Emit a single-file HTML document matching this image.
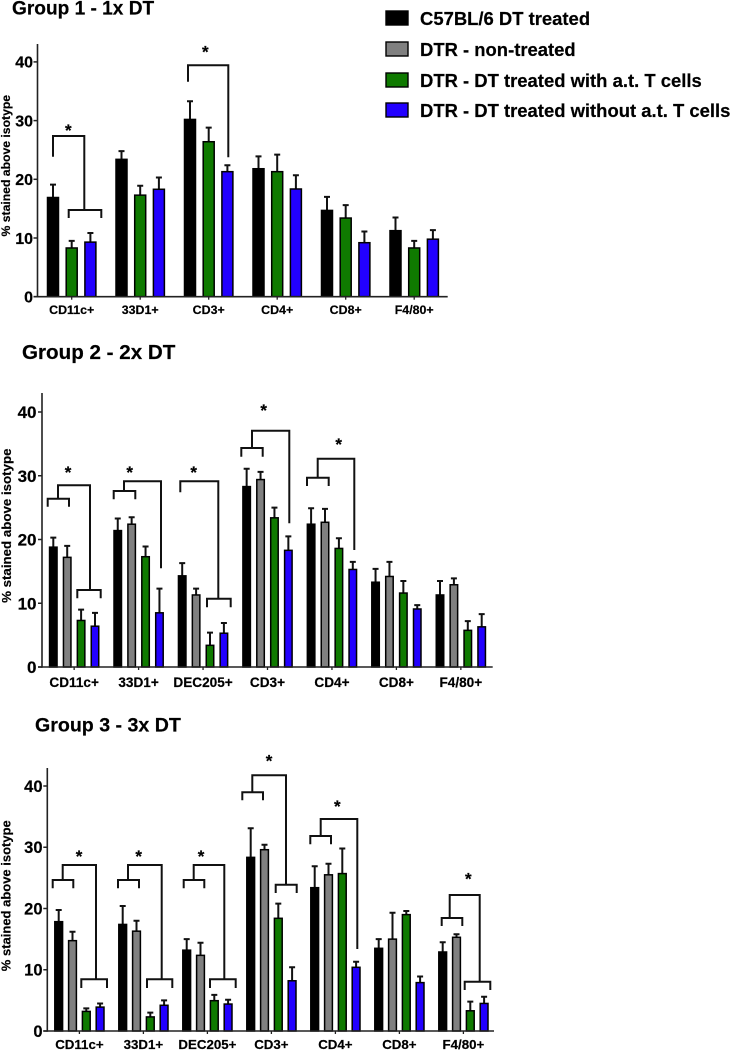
<!DOCTYPE html>
<html>
<head>
<meta charset="utf-8">
<style>
html,body{margin:0;padding:0;background:#fff;}
svg{display:block;font-family:"Liberation Sans",Arial,sans-serif;font-weight:bold;fill:#000;}
text{stroke:#000;stroke-width:.2;}
.br{fill:none;stroke:#111;stroke-width:2;}
</style>
</head>
<body>
<svg id="chart" width="731" height="1050" viewBox="0 0 731 1050" xmlns="http://www.w3.org/2000/svg">
  <rect width="731" height="1050" fill="#fff"/>

  <text x="12" y="14.7" font-size="19.1">Group 1 - 1x DT</text>
  <text x="22" y="359" font-size="20.6">Group 2 - 2x DT</text>
  <text x="35" y="731.5" font-size="19.6">Group 3 - 3x DT</text>

  <g>
    <rect x="386" y="11" width="22" height="14" fill="#000" stroke="#000" stroke-width="1.4"/>
    <text x="420" y="25" font-size="18.45">C57BL/6 DT treated</text>
    <rect x="386" y="42" width="22" height="14" fill="#808080" stroke="#000" stroke-width="1.4"/>
    <text x="420" y="56" font-size="18.45">DTR - non-treated</text>
    <rect x="386" y="73" width="22" height="14" fill="#0f7a00" stroke="#000" stroke-width="1.4"/>
    <text x="420" y="87" font-size="18.45">DTR - DT treated with a.t. T cells</text>
    <rect x="386" y="103" width="22" height="14" fill="#2200ff" stroke="#000" stroke-width="1.4"/>
    <text x="420" y="117" font-size="18.45">DTR - DT treated without a.t. T cells</text>
  </g>

  <g>
    <path class="br" d="M53 156.7V136H84.3V210"/>
    <path class="br" d="M68.7 218V210H101.3V218"/>
    <text x="68.3" y="136" font-size="17" text-anchor="middle">*</text>
    <path class="br" d="M188 81.7V65.3H228.3V157.3"/>
    <text x="205.3" y="57.5" font-size="17" text-anchor="middle">*</text>
  </g>

  <g>
    <path class="br" d="M47.7 506.7V498.7H69V506.7"/>
    <path class="br" d="M58 498.7V485.3H90V590"/>
    <path class="br" d="M77.3 598.3V590H100.7V598.3"/>
    <text x="68" y="478.2" font-size="17" text-anchor="middle">*</text>
    <path class="br" d="M113.7 499.3V491H135.3V499.3"/>
    <path class="br" d="M124 491V481.3H161V568.3"/>
    <text x="129.7" y="478.2" font-size="17" text-anchor="middle">*</text>
    <path class="br" d="M180.3 492.3V481.3H218.3V598.7"/>
    <path class="br" d="M207 607.3V598.7H230.7V607.3"/>
    <text x="193.7" y="478.2" font-size="17" text-anchor="middle">*</text>
    <path class="br" d="M241.3 456.7V448H262.7V456.7"/>
    <path class="br" d="M252 448V430.7H289.3V523.3"/>
    <text x="263.7" y="415.8" font-size="17" text-anchor="middle">*</text>
    <path class="br" d="M307 486V477.7H328.7V486"/>
    <path class="br" d="M317.7 477.7V458.7H354.3V550"/>
    <text x="338.7" y="449.8" font-size="17" text-anchor="middle">*</text>
  </g>

  <g>
    <path class="br" d="M52.7 888.3V880H73.3V888.3"/>
    <path class="br" d="M62.7 880V865H96V979.3"/>
    <path class="br" d="M81.3 988V979.3H107V988"/>
    <text x="79" y="862.2" font-size="17" text-anchor="middle">*</text>
    <path class="br" d="M118 888.3V880H139V888.3"/>
    <path class="br" d="M128 880V865H161.7V979.3"/>
    <path class="br" d="M147 988V979.3H172.3V988"/>
    <text x="138.7" y="862.2" font-size="17" text-anchor="middle">*</text>
    <path class="br" d="M183.7 888.3V880H204.3V888.3"/>
    <path class="br" d="M193.7 880V865H224.3V979.3"/>
    <path class="br" d="M210 988V979.3H235.7V988"/>
    <text x="201" y="862.2" font-size="17" text-anchor="middle">*</text>
    <path class="br" d="M242.3 800.3V792.3H263V800.3"/>
    <path class="br" d="M252.3 792.3V775.3H286V884.7"/>
    <path class="br" d="M275.7 893V884.7H296.7V893"/>
    <text x="269" y="766.5" font-size="17" text-anchor="middle">*</text>
    <path class="br" d="M310.3 844.3V836H331V844.3"/>
    <path class="br" d="M320.7 836V819H357.3V949"/>
    <text x="337.3" y="811.8" font-size="17" text-anchor="middle">*</text>
    <path class="br" d="M441.7 926V918H462.3V926"/>
    <path class="br" d="M449.7 918V895H479.7V981.7"/>
    <path class="br" d="M464.7 990V981.7H490.3V990"/>
    <text x="468.3" y="884.5" font-size="17" text-anchor="middle">*</text>
  </g>
</svg>
<script>
// Shared tick values and series colours
const yTicks = [0, 10, 20, 30, 40];
const seriesNames = { k: 'c57bl6', g: 'non-treated', n: 'with-tcells', b: 'without-tcells' };
const seriesFills = { k: '#000000', g: '#808080', n: '#0f7a00', b: '#2200ff' };

// Group 1 data
const g1Categories = ['CD11c+', '33D1+', 'CD3+', 'CD4+', 'CD8+', 'F4/80+'];
const g1Series = ['k', 'n', 'b'];
const g1Values = [
  [16.9, 8.3, 9.3],
  [23.4, 17.3, 18.3],
  [30.2, 26.4, 21.3],
  [21.8, 21.3, 18.35],
  [14.7, 13.4, 9.2],
  [11.25, 8.3, 9.8]
];
const g1Upper = [
  [19.1, 9.5, 10.85],
  [24.8, 18.9, 20.3],
  [33.3, 28.8, 22.4],
  [23.9, 24.2, 20.7],
  [17.0, 15.6, 11.1],
  [13.5, 9.5, 11.35]
];

// Group 2 data
const g2Categories = ['CD11c+', '33D1+', 'DEC205+', 'CD3+', 'CD4+', 'CD8+', 'F4/80+'];
const g2Series = ['k', 'g', 'n', 'b'];
const g2Values = [
  [18.8, 17.2, 7.3, 6.4],
  [21.4, 22.4, 17.3, 8.5],
  [14.3, 11.3, 3.4, 5.3],
  [28.3, 29.4, 23.4, 18.3],
  [22.4, 22.7, 18.6, 15.3],
  [13.3, 14.2, 11.6, 9.1],
  [11.3, 12.9, 5.75, 6.3]
];
const g2Upper = [
  [20.3, 19.0, 9.0, 8.5],
  [23.3, 23.5, 18.9, 12.3],
  [16.3, 12.3, 5.4, 6.9],
  [31.1, 30.6, 25.0, 20.5],
  [24.9, 24.8, 20.2, 16.5],
  [15.4, 16.5, 13.5, 9.7],
  [13.5, 13.9, 7.2, 8.3]
];

// Group 3 data
const g3Categories = ['CD11c+', '33D1+', 'DEC205+', 'CD3+', 'CD4+', 'CD8+', 'F4/80+'];
const g3Series = ['k', 'g', 'n', 'b'];
const g3Values = [
  [17.85, 14.75, 3.2, 3.9],
  [17.4, 16.3, 2.3, 4.2],
  [13.2, 12.35, 4.95, 4.4],
  [28.35, 29.6, 18.4, 8.2],
  [23.4, 25.5, 25.7, 10.4],
  [13.5, 15.0, 19.0, 7.9],
  [12.9, 15.3, 3.3, 4.5]
];
const g3Upper = [
  [19.75, 16.2, 3.7, 4.5],
  [20.4, 18.0, 3.0, 5.0],
  [15.0, 14.4, 5.9, 5.1],
  [33.1, 30.4, 20.8, 10.4],
  [26.9, 27.3, 29.8, 11.3],
  [15.0, 19.3, 19.6, 8.9],
  [14.5, 15.8, 4.8, 5.6]
];

const NS = 'http://www.w3.org/2000/svg';
const root = document.getElementById('chart');

function make(tag, attrs, parent) {
  const el = document.createElementNS(NS, tag);
  for (const key in attrs) el.setAttribute(key, attrs[key]);
  parent.appendChild(el);
  return el;
}

function drawPanel(cfg) {
  const yScale = v => cfg.y0 - v * cfg.unit;
  const xGroup = i => cfg.xFirst + i * cfg.groupStep;
  const xBar = (i, j) => xGroup(i) + j * cfg.barStep;

  const panel = make('g', {}, root);
  
  

  cfg.values.forEach((row, i) => {
    const mid = xBar(i, (row.length - 1) / 2);
    row.forEach((v, j) => {
      const cx = xBar(i, j);
      const barName = cfg.id + '-bar-' + cfg.categories[i].toLowerCase().replace(/[^a-z0-9]/g, '') + '-' + seriesNames[cfg.series[j]];
      const err = make('path', {
        d: 'M' + cx + ' ' + yScale(v) + 'V' + yScale(cfg.upper[i][j]) + 'M' + (cx - 3) + ' ' + yScale(cfg.upper[i][j]) + 'H' + (cx + 3),
        fill: 'none', stroke: '#111', 'stroke-width': 2
      }, panel);
      
      
      const bar = make('rect', {
        x: cx - cfg.barWidth / 2, y: yScale(v), width: cfg.barWidth, height: cfg.y0 - yScale(v),
        fill: seriesFills[cfg.series[j]], stroke: '#000', 'stroke-width': 1.5
      }, panel);
      
      
    });
    const tick = make('line', { x1: mid, x2: mid, y1: cfg.y0, y2: cfg.y0 + 3, stroke: '#222', 'stroke-width': 1.3 }, panel);
    
    
    const label = make('text', { x: mid, y: cfg.labelY, 'font-size': cfg.labelSize, 'text-anchor': 'middle' }, panel);
    
    
    label.textContent = cfg.categories[i];
  });

  const yAxis = make('line', { x1: cfg.xAxis, x2: cfg.xAxis, y1: cfg.yTop, y2: cfg.y0 + 0.7, stroke: '#222', 'stroke-width': 1.6 }, panel);
  
  
  const xAxis = make('line', { x1: cfg.xAxis - 4, x2: cfg.xEnd, y1: cfg.y0, y2: cfg.y0, stroke: '#222', 'stroke-width': 1.6 }, panel);
  
  

  yTicks.forEach(t => {
    const tick = make('line', { x1: cfg.xAxis - 4, x2: cfg.xAxis, y1: yScale(t), y2: yScale(t), stroke: '#222', 'stroke-width': 1.5 }, panel);
    
    
    const label = make('text', { x: cfg.tickRight, y: yScale(t) + cfg.tickSize * 0.36, 'font-size': cfg.tickSize, 'text-anchor': 'end' }, panel);
    
    
    label.textContent = t;
  });

  const title = make('text', {
    transform: 'translate(' + cfg.titleX + ' ' + cfg.titleY + ') rotate(-90)',
    'font-size': cfg.titleSize, 'text-anchor': 'middle'
  }, panel);
  
  
  title.textContent = '% stained above isotype';
}

drawPanel({ id: 'group-1', categories: g1Categories, series: g1Series, values: g1Values, upper: g1Upper,
  y0: 296.7, unit: 5.87, yTop: 44, xAxis: 37.5, xEnd: 447.7, xFirst: 53, groupStep: 68.5, barStep: 18.7, barWidth: 11,
  tickRight: 33, tickSize: 16, labelY: 314, labelSize: 12.4, titleX: 10, titleY: 165.7, titleSize: 12.2 });

drawPanel({ id: 'group-2', categories: g2Categories, series: g2Series, values: g2Values, upper: g2Upper,
  y0: 667, unit: 6.375, yTop: 393, xAxis: 42, xEnd: 492.7, xFirst: 53.3, groupStep: 64.45, barStep: 13.9, barWidth: 7.5,
  tickRight: 36.5, tickSize: 17, labelY: 687, labelSize: 13.6, titleX: 11, titleY: 525.7, titleSize: 13.3 });

drawPanel({ id: 'group-3', categories: g3Categories, series: g3Series, values: g3Values, upper: g3Upper,
  y0: 1031, unit: 6.125, yTop: 768, xAxis: 47.3, xEnd: 494, xFirst: 58.7, groupStep: 64, barStep: 13.8, barWidth: 7.8,
  tickRight: 42.5, tickSize: 16.5, labelY: 1049, labelSize: 13.3, titleX: 10.5, titleY: 895.7, titleSize: 13 });
</script>
</body>
</html>
